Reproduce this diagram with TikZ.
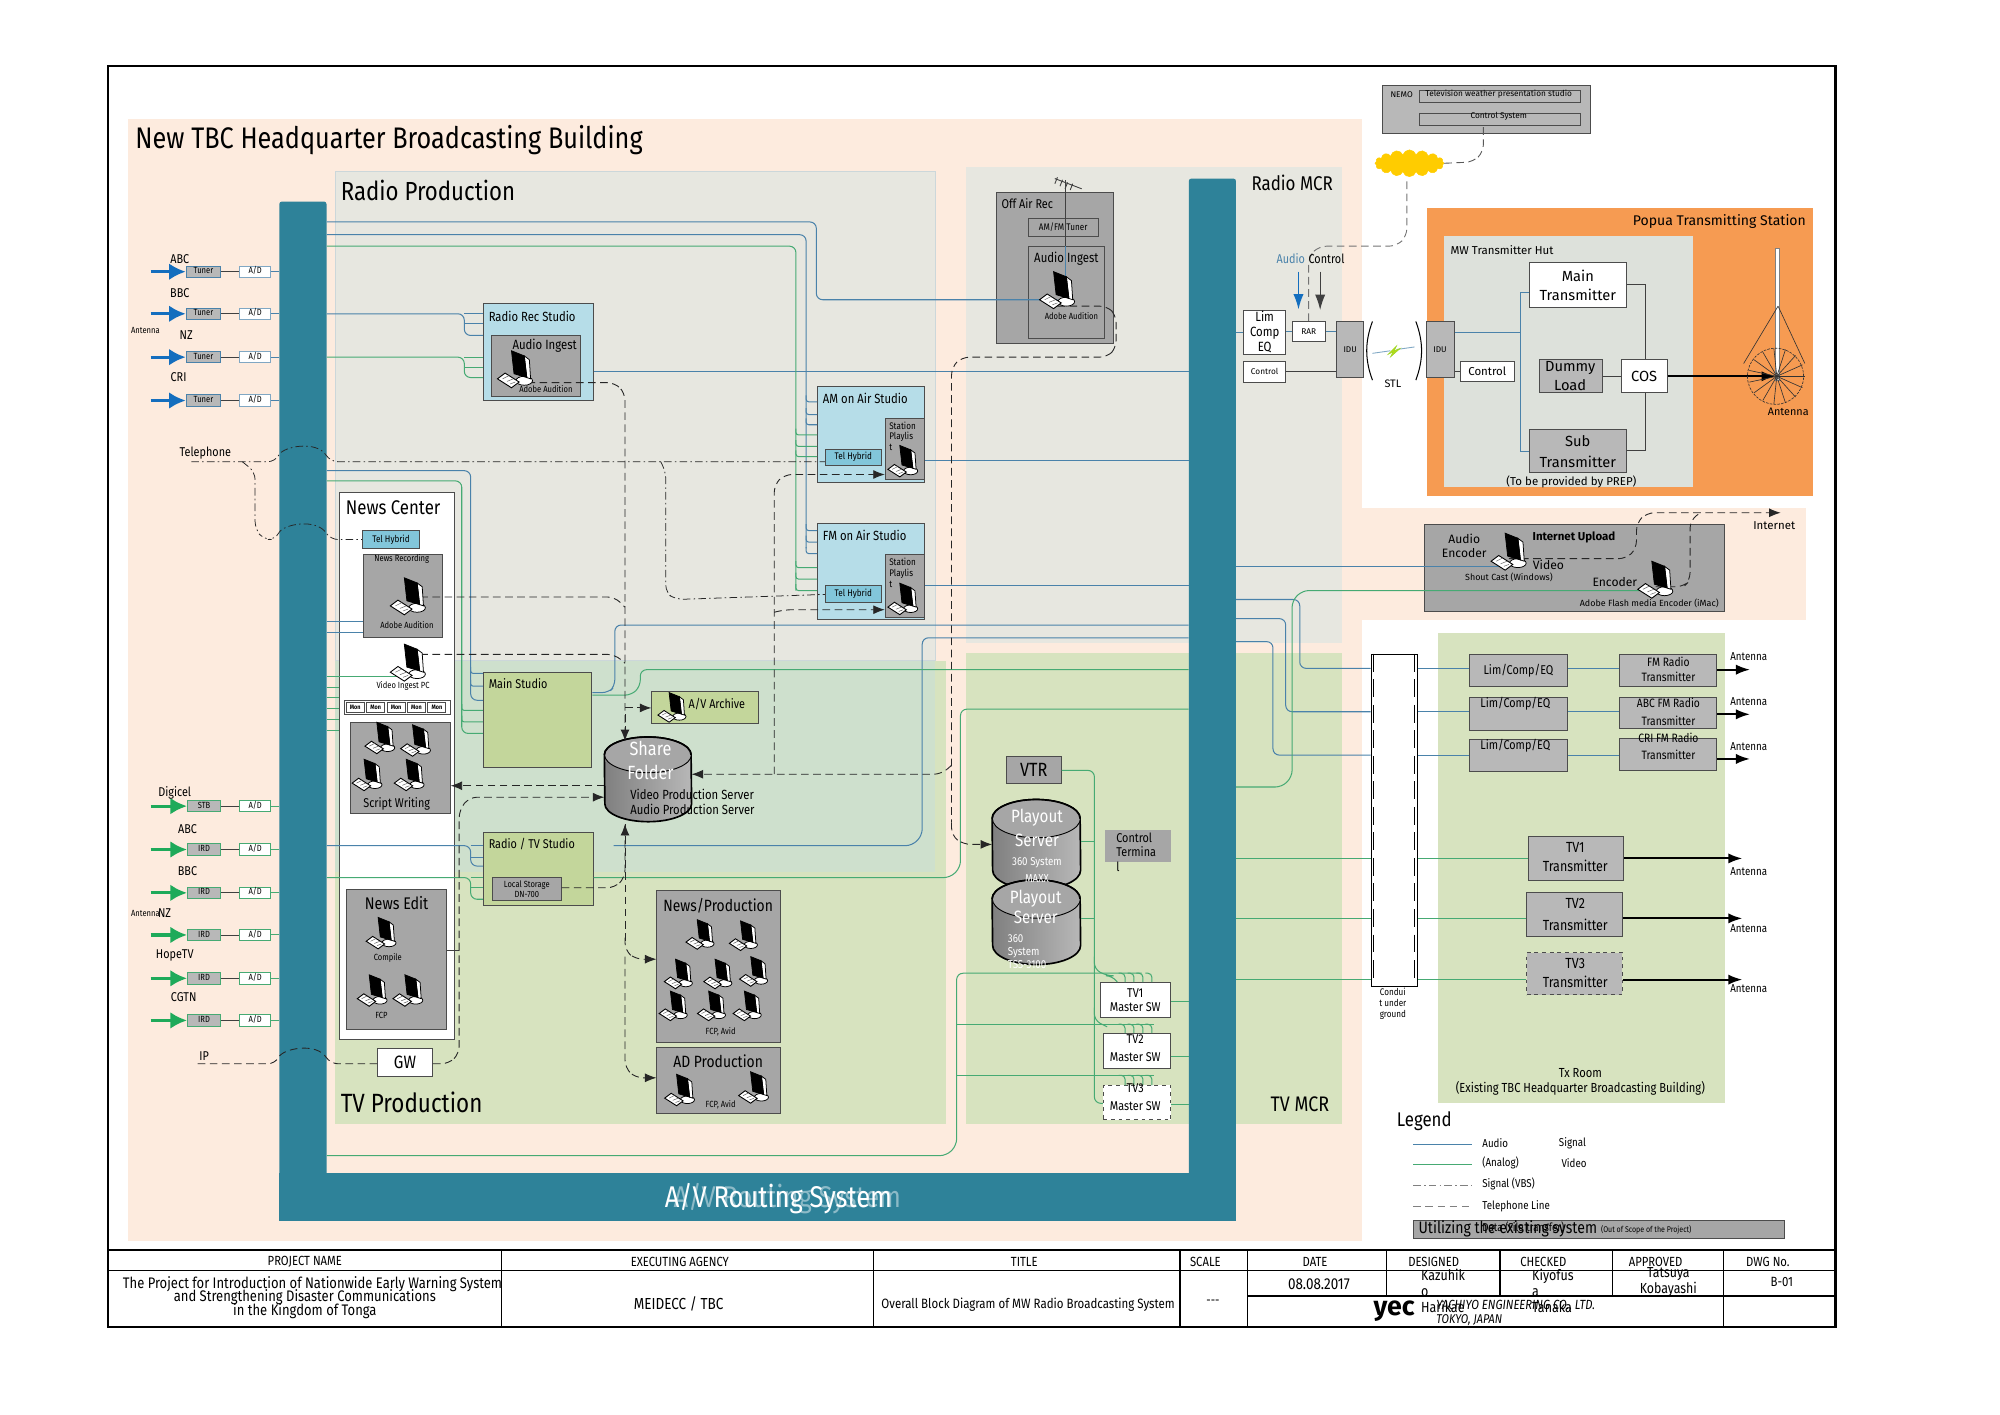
\documentclass[tikz,border=0pt]{standalone}
\usepackage{fontspec}
\setmainfont[FakeStretch=0.85]{Fira Sans}
\newfontfamily\widefont{Fira Sans}
\usetikzlibrary{arrows.meta,positioning,fit,calc,shapes.geometric,shapes.symbols}
\definecolor{TBCPeach}{RGB}{253,235,222}
\definecolor{TBCTeal}{RGB}{46,130,153}
\definecolor{TBCStone}{RGB}{231,231,224}
\definecolor{TBCMoss}{RGB}{215,227,191}
\definecolor{TBCMix}{RGB}{206,224,205}
\definecolor{TBCSky}{RGB}{182,221,232}
\definecolor{TBCHybrid}{RGB}{130,198,218}
\definecolor{TBCOlive}{RGB}{195,214,155}
\definecolor{TBCGrey}{RGB}{166,166,166}
\definecolor{TBCSilver}{RGB}{184,184,184}
\definecolor{TBCOrange}{RGB}{246,155,82}
\definecolor{TBCHut}{RGB}{221,225,219}
\definecolor{TBCBlue}{RGB}{74,130,170}
\definecolor{TBCGreen}{RGB}{70,170,115}
\definecolor{TBCArrowB}{RGB}{20,110,190}
\definecolor{TBCArrowG}{RGB}{30,170,90}
\definecolor{TBCCloud}{RGB}{255,204,0}
\tikzset{
  fs/.style={font=\linespread{1.12}\fontsize{#1}{#1}\selectfont},
  fw/.style={font=\widefont\linespread{1.12}\fontsize{#1}{#1}\selectfont},
  lbl/.style={inner sep=0pt,align=center},
  lft/.style={inner sep=0pt,anchor=west,align=left},
  area/.style={inner sep=0pt,draw=none},
  bx/.style={inner sep=0pt,align=center,draw=black!70,line width=.7pt},
  boxg/.style={bx,fill=TBCGrey},
  boxs/.style={bx,fill=TBCSilver},
  boxw/.style={bx,fill=white},
  boxb/.style={bx,fill=TBCSky},
  boxo/.style={bx,fill=TBCOlive},
  boxh/.style={bx,fill=TBCHybrid},
  blueln/.style={draw=TBCBlue,line width=.8pt,rounded corners=5pt},
  greenln/.style={draw=TBCGreen,line width=.8pt,rounded corners=5pt},
  blackln/.style={draw=black!75,line width=.7pt},
  dashln/.style={draw=black!85,line width=.7pt,dash pattern=on 6pt off 3.5pt,rounded corners=6pt},
  dotln/.style={draw=black!85,line width=.6pt,dash pattern=on 6pt off 2.5pt on 1.2pt off 2.5pt,rounded corners=6pt},
  tip/.style={-{Latex[length=9pt,width=7pt]}},
  fatarrow/.style={line width=1.6pt,-{Latex[length=11pt,width=8pt]}},
  drumln/.style={draw=black,line width=1.3pt},
  pc/.pic={
    \draw[fill=white,line width=.6pt] (7,8.5) ellipse (6.5pt and 3.5pt);
    \draw[fill=white,line width=.6pt] (7,-11)--(11,-8)--(12,7)--(9,6)--cycle;
    \draw[fill=black,draw=black,line width=.6pt] (-3,-15)--(7,-11)--(9,6)--(-1,3)--cycle;
    \draw[fill=white,line width=.7pt] (-14,7)--(-8,2.5)--(3,9.5)--(-3,14)--cycle;
    \draw[line width=.4pt,black!60] (-10,7)--(-5,4.5) (-6.5,9)--(-1.5,7) (-4,11)--(0,9.5);
  }
}
\newcommand{\drumon}[3]{
  \draw[drumln,left color=black!50,right color=black!28] ($(#1.north west)+(0,-#3)$) arc (180:0:#2 and #3) -- ($(#1.south east)+(0,#3)$) arc (0:-180:#2 and #3) -- cycle;
  \draw[drumln,line width=.7pt,fill=TBCGrey] ($(#1.north)+(0,-#3)$) ellipse (#2 and #3);
  \draw[drumln] ($(#1.north west)+(0,-#3)$) arc (180:0:#2 and #3);
}
\begin{document}
\begin{tikzpicture}[x=1pt,y=-1pt]
\useasboundingbox (0,0) rectangle (1568,1108.6);
\node[inner sep=0pt,draw=black,line width=1.6pt,fit={(85,52) (1439,1040)}] (frame) {};

% areas
\node[area,fill=TBCPeach,fit={(100,93) (1068,973)}] (building) {};
\node[area,fill=TBCPeach,fit={(1068,398) (1416,486)}] (uploadarea) {};
\node[area,fill=TBCMoss,fit={(263,518) (742,881)}] (tvprod) {};
\node[area,fill=TBCStone,draw=TBCSky!70!black!40,fit={(263,134) (733,518)}] (radioprod) {};
\node[area,fill=TBCMix,fit={(263,518) (733,684)}] (overlap) {};
\node[area,fill=TBCStone,fit={(757,131) (1052,504)}] (radiomcr) {};
\node[area,fill=TBCMoss,fit={(757,512) (1052,881)}] (tvmcr) {};
\node[area,fill=TBCOrange,fit={(1119,163) (1421,389)}] (popua) {};
\node[area,fill=TBCHut,fit={(1132,185) (1327,382)}] (hut) {};
\node[area,fill=TBCMoss,fit={(1127,496) (1352,865)}] (txroom) {};

% routing system
\node[area,fill=TBCTeal,rounded corners=2pt,fit={(219,158) (256,957)}] (barL) {};
\node[area,fill=TBCTeal,rounded corners=2pt,fit={(932,140) (969,957)}] (barR) {};
\node[area,fill=TBCTeal,fit={(219,920) (969,957)}] (barB) {};

% boxes
\node[boxb,fit={(379,238) (465,314)}] (recstudio) {};
\node[boxg,fit={(385,263) (455,311)}] (recingest) {};
\node[boxb,fit={(641,303) (725,378)}] (amair) {};
\node[boxg,fit={(694,328) (725,376)}] (amlist) {};
\node[boxh,fit={(647,352) (691,365)}] (amhybrid) {};
\node[boxb,fit={(641,410) (725,486)}] (fmair) {};
\node[boxg,fit={(694,435) (725,484)}] (fmlist) {};
\node[boxh,fit={(647,459) (691,472)}] (fmhybrid) {};
\node[boxg,fit={(781,151) (873,269)}] (offair) {};
\node[boxg,fit={(806,171) (861,185)}] (amfm) {};
\node[boxg,fit={(806,193) (866,265)}] (offingest) {};
\node[boxw,fit={(266,386) (356,815)}] (newscenter) {};
\node[boxh,fit={(284,416) (329,430)}] (newshybrid) {};
\node[boxg,fit={(285,435) (347,500)}] (newsrec) {};
\node[boxw,fit={(270,549) (353,560)}] (monrow) {};
\foreach \i in {0,...,4} {
  \node[boxw,fit={(271.5+16*\i,550.5) (285.5+16*\i,558.5)}] (mon\i) {};
  \node[lbl,font=\bfseries\fontsize{5}{5}\selectfont] (mont\i) at (mon\i) {Mon};
}
\node[boxg,fit={(275,566) (353,638)}] (script) {};
\node[boxg,fit={(272,697) (350,807)}] (newsedit) {};
\node[boxw,fit={(296,822) (339,844)}] (gw) {};
\node[boxo,fit={(379,527) (464,602)}] (mainstudio) {};
\node[boxo,fit={(379,653) (465,710)}] (tvstudio) {};
\node[boxg,fit={(386,688) (440,706)}] (localstore) {};
\node[boxo,fit={(511,542) (595,567)}] (archive) {};
\node[boxg,fit={(515,698) (612,817)}] (newsprod) {};
\node[boxg,fit={(515,821) (612,873)}] (adprod) {};
\node[boxg,fit={(789,593) (832,614)}] (vtr) {};
\node[boxg,draw=none,fit={(866,651) (918,676)}] (ctrlterm) {};
\node[boxw,fit={(863,770) (918,798)}] (master1) {};
\node[boxw,fit={(865,810) (918,838)}] (master2) {};
\node[boxw,dashed,fit={(865,851) (918,878)}] (master3) {};
\node[boxs,fit={(1084,67) (1247,105)}] (nemo) {};
\node[boxs,fit={(1113,71) (1239,80)}] (weather) {};
\node[boxs,fit={(1113,89) (1239,98)}] (ctrlsys) {};
\node[cloud,cloud puffs=16,cloud puff arc=150,aspect=2.6,fill=TBCCloud,draw=TBCCloud,inner sep=0pt,minimum width=54pt,minimum height=21pt] (cloud) at (1105,128) {};
\node[boxw,fit={(975,243) (1008,278)}] (limcomp) {};
\node[boxw,fit={(1013,252) (1039,268)}] (rar) {};
\node[boxw,fit={(975,283) (1008,300)}] (ctrlA) {};
\node[boxs,fit={(1048,252) (1069,296)}] (iduA) {};
\node[boxs,fit={(1118,252) (1140,296)}] (iduB) {};
\node[boxw,fit={(1145,283) (1187,299)}] (ctrlB) {};
\node[boxw,fit={(1199,206) (1275,241)}] (maintx) {};
\node[boxs,fit={(1207,282) (1256,308)}] (dummy) {};
\node[boxw,fit={(1271,282) (1307,308)}] (cos) {};
\node[boxs,fit={(1199,337) (1275,370)}] (subtx) {};
\node[boxg,fit={(1117,411) (1352,479)}] (upload) {};
\node[boxw,draw=black,fit={(1075,513) (1111,773)}] (conduit) {};
\node[boxs,fit={(1152,513) (1229,538)}] (eq1) {};
\node[boxs,fit={(1152,547) (1229,573)}] (eq2) {};
\node[boxs,fit={(1152,580) (1229,605)}] (eq3) {};
\node[boxs,fit={(1270,513) (1346,538)}] (fmtx) {};
\node[boxs,fit={(1270,547) (1346,571)}] (abctx) {};
\node[boxs,fit={(1270,579) (1346,604)}] (critx) {};
\node[boxs,fit={(1198,656) (1273,690)}] (tv1tx) {};
\node[boxs,fit={(1197,700) (1272,734)}] (tv2tx) {};
\node[boxs,dashed,fit={(1197,747) (1272,780)}] (tv3tx) {};
\node[boxg,fit={(1108,957) (1399,971)}] (legendbar) {};
\node[area,fit={(474,578) (542,644)}] (share) {};
\node[area,fit={(778,627) (847,697)}] (server1) {};
\node[area,fit={(778,690) (847,756)}] (server2) {};
\drumon{share}{34pt}{14pt}
\drumon{server1}{34.5pt}{15pt}
\drumon{server2}{34.5pt}{15pt}

% pc positions
\coordinate (pcRec) at (404,290);
\coordinate (pcOff) at (829,228);
\coordinate (pcNews) at (320,468);
\coordinate (pcVideo) at (320,520);
\coordinate (pcAudioEnc) at (1183,433);
\coordinate (pcVideoEnc) at (1298,455);

% inputs
\foreach \y/\n in {213/1,246/2,280/3,314/4} {
  \node[boxs,draw=TBCBlue,fit={(146,\y-4.5) (173,\y+4.5)}] (tuner\n) {};
  \node[boxw,draw=TBCBlue!70,fit={(188,\y-4.5) (212,\y+4.5)}] (ad\n) {};
  \node[lbl,fs=7,yshift=.8pt] (tunert\n) at (tuner\n) {Tuner};
  \node[lbl,fs=7,yshift=.8pt] (adt\n) at (ad\n) {A/D};
  \coordinate (src\n) at (118,\y);
  \draw[line width=2.5pt,draw=TBCArrowB,-{Latex[length=13pt,width=13pt]}] (src\n) -- (tuner\n.west);
  \draw[blackln] (tuner\n) -- (ad\n);
  \draw[blueln] (ad\n) -- (barL.west |- ad\n);
}
\foreach \y/\n/\lab in {632/1/STB,666/2/IRD,700/3/IRD,733/4/IRD,767/5/IRD,800/6/IRD} {
  \node[boxs,draw=TBCGreen,fit={(147,\y-4.5) (173,\y+4.5)}] (ird\n) {};
  \node[boxw,draw=TBCGreen,fit={(188,\y-4.5) (212,\y+4.5)}] (adv\n) {};
  \node[lbl,fs=7,yshift=.8pt] (irdt\n) at (ird\n) {\lab};
  \node[lbl,fs=7,yshift=.8pt] (advt\n) at (adv\n) {A/D};
  \coordinate (srv\n) at (118,\y);
  \draw[line width=2.5pt,draw=TBCArrowG,-{Latex[length=13pt,width=13pt]}] (srv\n) -- (ird\n.west);
  \draw[blackln] (ird\n) -- (adv\n);
  \draw[greenln] (adv\n) -- (barL.west |- adv\n);
}

% blue
\draw[blueln] (barL.east |- 0,174) -- (640,174) -- (640,235) -- (pcOff |- 0,235);
\draw[blueln] (barL.east |- 0,184) -- (632,184) -- (632,430);
\draw[blueln] (barL.east |- 0,246) -- (364,246) -- (364,263) -- (recstudio.west |- 0,263);
\draw[blueln] (364,254) -- (recstudio.west |- 0,254);
\draw[blueln] (364,246) -- (recstudio.west |- 0,246);
\draw[blueln] (recstudio.east |- 0,291) -- (barR.west |- 0,291);
\draw[blueln] (amair.east |- 0,361) -- (barR.west |- 0,361);
\draw[blueln] (fmair.east |- 0,459) -- (barR.west |- 0,459);
\foreach \y in {315,325,333} \draw[blueln,rounded corners=2pt] (632,\y-5) -- (632,\y) -- (amair.west |- 0,\y);
\foreach \y in {416,425,434} \draw[blueln,rounded corners=2pt] (632,\y-5) -- (632,\y) -- (fmair.west |- 0,\y);
\draw[blueln] (barL.east |- 0,369) -- (369,369) -- (369,549) -- (mainstudio.west |- 0,549);
\foreach \y in {528,538} \draw[blueln,rounded corners=2pt] (369,\y-5) -- (369,\y) -- (mainstudio.west |- 0,\y);
\draw[blueln] (mainstudio.east |- 0,543) -- (477,543) -- (482,538) -- (482,490) -- (barR.west |- 0,490);
\foreach \y in {487,496} \draw[blueln] (barL.east |- 0,\y) -- (newsrec.west |- 0,\y);
\draw[blueln] (barL.east |- 0,663) -- (369,663) -- (369,679) -- (tvstudio.west |- 0,679);
\foreach \y in {663,672} \draw[blueln,rounded corners=2pt] (369,\y) -- (tvstudio.west |- 0,\y);
\draw[blueln] (481,663) -- (715,663) -- (723,655) -- (723,500) -- (barR.west |- 0,500);
\draw[blueln] (barR.east |- 0,444) -- (pcAudioEnc |- 0,444);
\draw[blueln] (barR.east |- 0,470) -- (1019,470) -- (1019,524) -- (conduit.west |- 0,524);
\draw[blueln] (barR.east |- 0,485) -- (1008,485) -- (1008,558) -- (conduit.west |- 0,558);
\draw[blueln] (barR.east |- 0,503) -- (998,503) -- (998,592) -- (conduit.west |- 0,592);
\draw[blueln] (conduit.east |- 0,524) -- (eq1.west |- 0,524);
\draw[blueln] (conduit.east |- 0,558) -- (eq2.west |- 0,558);
\draw[blueln] (conduit.east |- 0,592) -- (eq3.west |- 0,592);
\draw[blueln] (eq1.east |- 0,524) -- (fmtx.west |- 0,524);
\draw[blueln] (eq2.east |- 0,558) -- (abctx.west |- 0,558);
\draw[blueln] (eq3.east |- 0,592) -- (critx.west |- 0,592);
\draw[blueln] (barR.east |- limcomp) -- (limcomp);
\draw[blueln] (limcomp.east |- rar) -- (rar);
\draw[blueln] (rar) -- (iduA.west |- rar);
\draw[blueln] (iduB.east |- 0,261) -- (1192,261);
\draw[blueln,rounded corners=0pt] (maintx.west |- 0,229) -- (1192,229) -- (1192,354) -- (subtx.west |- 0,354);
\draw[blueln] (amfm.south -| 835,185) -- (835,230);

% green
\draw[greenln] (barL.east |- 0,193) -- (624,193) -- (624,463);
\draw[greenln] (barL.east |- 0,280) -- (364,280) -- (364,296) -- (recstudio.west |- 0,296);
\draw[greenln] (364,288) -- (recstudio.west |- 0,288);
\draw[greenln] (364,280) -- (recstudio.west |- 0,280);
\foreach \y in {341,350,358} \draw[greenln,rounded corners=2pt] (624,\y-5) -- (624,\y) -- (amair.west |- 0,\y);
\foreach \y in {445,454,463} \draw[greenln,rounded corners=2pt] (624,\y-5) -- (624,\y) -- (fmair.west |- 0,\y);
\draw[greenln] (barL.east |- 0,377) -- (362,377) -- (362,575) -- (mainstudio.west |- 0,575);
\foreach \y in {557,566} \draw[greenln,rounded corners=2pt] (362,\y-5) -- (362,\y) -- (mainstudio.west |- 0,\y);
\draw[greenln] (mainstudio.east |- 0,545) -- (495,545) -- (502,538) -- (502,525) -- (barR.west |- 0,525);
\draw[greenln] (barL.east |- 0,530) -- (pcVideo |- 0,530);
\foreach \y in {539,547,555.6,564,572.5} \draw[greenln] (barL.east |- 0,\y) -- (newscenter.west |- 0,\y);
\draw[greenln] (barL.east |- 0,688) -- (369,688) -- (369,705) -- (tvstudio.west |- 0,705);
\draw[greenln] (369,696) -- (tvstudio.west |- 0,696);
\draw[greenln] (369,688) -- (tvstudio.west |- 0,688);
\draw[greenln] (tvstudio.east |- 0,688) -- (745,688) -- (753,680) -- (753,556) -- (barR.west |- 0,556);
\draw[greenln] (barL.east |- 0,906) -- (742,906) -- (750,898) -- (750,763) -- (895,763);
\draw[greenln] (750,803) -- (905,803);
\draw[greenln] (750,843) -- (905,843);
\draw[greenln] (vtr.east |- 0,604) -- (858,604) -- (858,865) -- (master3.west |- 0,865);
\draw[greenln] (server1.east |- 0,660) -- (858,660);
\draw[greenln] (server2.east |- 0,720) -- (858,720);
\draw[greenln] (858,750) -- (858,760) -- (868,765) -- (872,765) -- (876,770);
\draw[greenln] (858,790) -- (858,800) -- (868,805);
\foreach \x in {882,889,896,903} {
  \draw[greenln,rounded corners=3pt] (\x-5,763) -- (\x,763) -- (\x,770);
  \draw[greenln,rounded corners=3pt] (\x-5,803) -- (\x,803) -- (\x,810);
  \draw[greenln,rounded corners=3pt] (\x-5,843) -- (\x,843) -- (\x,851);
}
\draw[greenln] (master1.east |- 0,785) -- (barR.west |- 0,785);
\draw[greenln] (master2.east |- 0,828) -- (barR.west |- 0,828);
\draw[greenln] (master3.east |- 0,866) -- (barR.west |- 0,866);
\draw[greenln] (barR.east |- 0,617) -- (1005,617) -- (1013,609) -- (1013,471) -- (1021,463) -- (pcVideoEnc |- 0,463);
\foreach \y/\t in {673/tv1tx,720/tv2tx,768/tv3tx} {
  \draw[greenln] (barR.east |- 0,\y) -- (conduit.west |- 0,\y);
  \draw[greenln] (conduit.east |- 0,\y) -- (\t.west |- 0,\y);
}

% black
\draw[blackln] (ctrlA) -- (iduA.west |- ctrlA);
\draw[blackln] (iduB.east |- ctrlB) -- (ctrlB);
\draw[blackln] (maintx.east |- 0,223) -- (1290,223) -- (cos.north -| 1290,0);
\draw[blackln] (subtx.east |- 0,353) -- (1290,353) -- (cos.south -| 1290,0);
\draw[blackln] (dummy) -- (cos);
\draw[blackln] (offingest.north -| 835,0) -- (835,141);
\draw[blackln] (amfm.north -| 835,0) -- (835,158);
\draw[blackln] (827,140) -- (848,148) (829,139) -- (827,144) (833,141) -- (831,146) (837,143) -- (835,148) (841,144) -- (839,149);
\draw[blackln] (newsedit.east |- 0,745) -- (360,745);

% dash dot
\draw[dotln] (150,362) -- (216,362) .. controls (222,350) and (248,345) .. (259,362) -- (amhybrid.west |- 0,362);
\draw[dotln] (190,362) -- (200,370) -- (200,415) -- (207,423) -- (216,423) .. controls (222,411) and (248,406) .. (259,423) -- (newshybrid.west |- 0,423);
\draw[dotln] (518,362) -- (522,370) -- (522,465) -- (530,470) -- (fmhybrid.west |- 0,466);
% dashed
\draw[dashln] (pcRec |- 0,300) -- (482,300) -- (490,308) -- (490,578);
\draw[dashln,tip] (490,560) -- (490,581);
\draw[dashln] (pcNews |- 0,468) -- (482,468) -- (490,476);
\draw[dashln] (pcVideo |- 0,513) -- (482,513) -- (490,520);
\draw[dashln,tip] (490,555) -- (archive.west |- 0,555);
\draw[dashln,tip] (share.west |- 0,616) -- (script.east |- 0,616);
\draw[dashln,tip] (360,745) -- (360,635) -- (368,625) -- (share.west |- 0,625);
\draw[dashln] (155,834) -- (216,834) .. controls (222,822) and (248,817) .. (259,834) -- (gw.west |- 0,834);
\draw[dashln] (gw.east |- 0,834) -- (352,834) -- (360,826) -- (360,745);
\draw[dashln,tip] (localstore.east |- 0,696) -- (482,696) -- (490,688) -- (490,646);
\draw[dashln] (490,646) -- (490,740);
\draw[dashln,tip] (490,735) -- (490,745) -- (498,752) -- (newsprod.west |- 0,752);
\draw[dashln,tip] (490,750) -- (490,837) -- (498,845) -- (adprod.west |- 0,845);
\draw[dashln] (pcOff |- 0,240) -- (868,240) -- (875,247) -- (875,273) -- (868,280) -- (754,280) -- (746,288) -- (746,645);
\draw[dashln,tip] (746,600) -- (738,607) -- (share.east |- 0,607);
\draw[dashln,tip] (746,645) -- (746,655) -- (755,662) -- (server1.west |- 0,662);
\draw[dashln,tip] (607,607) -- (607,380) -- (615,372) -- (amlist.west |- 0,372);
\draw[dashln,tip] (607,480) -- (615,478) -- (fmlist.west |- 0,478);
\draw[dashln,draw=black!55] (rar.north -| 1026,0) -- (1026,201) -- (1034,193) -- (1095,193) -- (1103,185) -- (cloud.south -| 1103,0);
\draw[dashln,draw=black!65] (cloud.east) -- (1155,127) -- (1163,119) -- (ctrlsys.south -| 1163,0);
\draw[dashln,tip] (pcAudioEnc |- 0,438) -- (1275,438) -- (1283,430) -- (1283,410) -- (1291,402) -- (1396,402);
\draw[dashln] (pcVideoEnc |- 0,460) -- (1320,460) -- (1325,455) -- (1325,408) -- (1333,402);

% arrows out
\draw[line width=1.3pt,draw=TBCArrowB,-{Latex[length=12pt,width=8pt]}] (1018,213) -- (limcomp.north -| 1018,0);
\draw[blackln,-{Latex[length=12pt,width=8pt]},line width=.9pt] (1035,213) -- (1035,243);
\draw[fatarrow] (cos.east) -- (1392,295);
\foreach \t/\y in {fmtx/525,abctx/560,critx/595} \draw[fatarrow] (\t.east |- 0,\y) -- (1372,\y);
\foreach \t/\y in {tv1tx/673,tv2tx/720,tv3tx/768} \draw[fatarrow] (\t.east |- 0,\y) -- (1366,\y);

% conduit edges
\draw[black,line width=.7pt,dash pattern=on 14pt off 6pt] ($(conduit.north west)+(2.5,0)$) -- ($(conduit.south west)+(2.5,0)$);
\draw[black,line width=.7pt,dash pattern=on 14pt off 6pt] ($(conduit.north east)+(-2.5,0)$) -- ($(conduit.south east)+(-2.5,0)$);

% mast and radials
\node[inner sep=0pt,fill=white,draw=black!50,line width=.4pt,fit={(1392,195) (1395,298)}] (mast) {};
\draw[black!80,line width=.5pt] (1394,240) -- (1367,285) (1394,240) -- (1415,285);
\draw[black!80,line width=.5pt,dash pattern=on 2pt off 1pt] (1392,295) ellipse (22pt and 22pt);
\foreach \a in {0,24,...,336} \draw[black!80,line width=.5pt] (1393,295) -- ++(\a:22pt);
% stl
\draw[line width=.8pt] (1076,252) .. controls (1070,268) and (1070,282) .. (1076,298);
\draw[line width=.8pt] (1110,252) .. controls (1116,268) and (1116,282) .. (1110,298);
\draw[TBCBlue!70,line width=.7pt] (1076,277) -- (1090,275) (1095,274) -- (1109,272);
\draw[fill=yellow!70!green,draw=yellow!60!green,line width=.3pt] (1088,278) -- (1095,271) -- (1093,275) -- (1098,273) -- (1090,280) -- (1092,276) -- cycle;

% pcs
\pic at (pcRec) {pc};
\pic at (pcOff) {pc};
\pic at (pcNews) {pc};
\pic at (pcVideo) {pc};
\pic at (pcAudioEnc) {pc};
\pic at (pcVideoEnc) {pc};
\pic[scale=.85] at (708,362) {pc};
\pic[scale=.85] at (708,470) {pc};
\pic[scale=.8] at (527,555) {pc};
\foreach \x/\y in {298/579,326/581,288/608,321/608} \pic[scale=.85] at (\x,\y) {pc};
\foreach \x/\y in {299/732,292/777,320/777} \pic[scale=.85] at (\x,\y) {pc};
\foreach \x/\y in {549/733,583/734,532/764,563/764,591/762,528/789,558/789,586/789} \pic[scale=.8] at (\x,\y) {pc};
\foreach \x/\y in {533/855,591/853} \pic[scale=.85] at (\x,\y) {pc};

% headings
\node[lft,fs=23.3] (tBuilding) at (106,110) {New TBC Headquarter Broadcasting Building};
\node[lft,fs=20.5] (tRadioProd) at (267,149) {Radio Production};
\node[lft,fs=20.7] (tTvProd) at (267,864) {TV Production};
\node[lft,fs=15.6] (tRadioMcr) at (981,143) {Radio MCR};
\node[lft,fs=16.5] (tTvMcr) at (996,866) {TV MCR};
\node[lft,fs=23.5,text=white] (tRouting) at (521,940) {A/V Routing System};
\node[lft,fs=23.5,text=white,opacity=.45] (tRoutingB) at (528,940) {A/V Routing System};
\node[lft,fs=15.5] (tNewsCenter) at (271,398) {News Center};

% left labels
\foreach \x/\y/\t/\n in {141/203/ABC/a,141/230/BBC/b,146/263/NZ/c,140/296/CRI/d,137/622/Digicel/e,147/650/ABC/f,147/683/BBC/g,129/716/NZ/h,137/749/HopeTV/i,144/782/CGTN/j,160/828/IP/k,161/355/Telephone/l}
  \node[lbl,fs=10] (lab\n) at (\x,\y) {\t};
\node[lbl,fs=7] (antA) at (114,259) {Antenna};
\node[lbl,fs=7] (antB) at (114,716) {Antenna};

% studios
\node[lft,fs=10.4] (tRec) at (383,248) {Radio Rec Studio};
\node[lbl,fs=10.5] (tRecIngest) at (427,271) {Audio Ingest};
\node[lbl,fs=7] (tRecAdobe) at (428,305) {Adobe Audition};
\node[lft,fs=10.4] (tAm) at (645,312) {AM on Air Studio};
\node[lft,fs=7.5] (tAmList) at (697,342) {Station\\Playlis\\t};
\node[lbl,fs=7.5] (tAmHybrid) at (amhybrid) {Tel Hybrid};
\node[lft,fs=10.4] (tFm) at (645,420) {FM on Air Studio};
\node[lft,fs=7.5] (tFmList) at (697,449) {Station\\Playlis\\t};
\node[lbl,fs=7.5] (tFmHybrid) at (fmhybrid) {Tel Hybrid};
\node[lft,fs=10] (tOff) at (785,160) {Off Air Rec};
\node[lbl,fs=7.5] (tAmFm) at (amfm) {AM/FM Tuner};
\node[lbl,fs=10.5] (tOffIngest) at (836,203) {Audio Ingest};
\node[lbl,fs=7] (tOffAdobe) at (840,248) {Adobe Audition};
\node[lbl,fs=7.5] (tNewsHybrid) at (newshybrid) {Tel Hybrid};
\node[lbl,fs=7] (tNewsRec) at (315,438) {News Recording};
\node[lbl,fs=7] (tNewsAdobe) at (319,490) {Adobe Audition};
\node[lbl,fs=7] (tVideoPc) at (316,538) {Video Ingest PC};
\node[lbl,fs=10] (tScript) at (311,630) {Script Writing};
\node[lbl,fs=13.2] (tNewsEdit) at (311,708) {News Edit};
\node[lbl,fs=7] (tCompile) at (304,751) {Compile};
\node[lbl,fs=7] (tFcp) at (299,796) {FCP};
\node[lbl,fs=14] (tGw) at (gw) {GW};
\node[lft,fs=10] (tMain) at (383,536) {Main Studio};
\node[lft,fs=10] (tTvStudio) at (383,662) {Radio / TV Studio};
\node[lbl,fs=7] (tLocal) at (localstore) {Local Storage\\DN-700};
\node[lbl,fs=10] (tArchive) at (562,552) {A/V Archive};
\node[lbl,fs=15,text=white] (tShare) at (510,596) {Share\\[2pt]Folder};
\node[lft,fs=10.4] (tShareSub) at (494,629) {Video Production Server\\Audio Production Server};
\node[lbl,fs=12.8] (tNewsProd) at (563,710) {News/Production};
\node[lbl,fs=7] (tFcpA) at (565,809) {FCP, Avid};
\node[lbl,fs=12.8] (tAd) at (563,832) {AD Production};
\node[lbl,fs=7] (tFcpB) at (565,866) {FCP, Avid};
\node[lbl,fs=15] (tVtr) at (vtr) {VTR};
\node[lbl,fs=14,text=white] (tPlayA) at (813,649) {Playout\\[3pt]Server};
\node[lbl,fs=9,text=white] (tPlayAsub) at (813,682) {360 System\\[3pt]MAXX};
\node[lbl,fs=14,text=white] (tPlayB) at (812,711) {Playout\\Server};
\node[lft,fs=9,text=white] (tPlayBsub) at (790,746) {360\\System\\TSS-3100};
\node[lft,fs=10] (tCtrl) at (875,668) {Control\\Termina\\l};
\node[lbl,fs=10] (tM1) at (890,784) {TV1\\Master SW};
\node[lbl,fs=10] (tM2) at (890,822) {TV2\\[3pt]Master SW};
\node[lbl,fs=10] (tM3) at (890,860) {TV3\\[3pt]Master SW};

% right labels
\node[lbl,fs=10,text=TBCBlue] (tAudioIn) at (1012,203) {Audio};
\node[lbl,fs=10] (tControlIn) at (1040,203) {Control};
\node[lbl,fs=10.5] (tLim) at (limcomp) {Lim\\Comp\\EQ};
\node[lbl,fw=6.5] (tRar) at (rar) {RAR};
\node[lbl,fw=6.5] (tCtrlA) at (ctrlA) {Control};
\node[lbl,fw=6.5] (tIduA) at (iduA) {IDU};
\node[lbl,fw=6.5] (tIduB) at (iduB) {IDU};
\node[lbl,fw=9] (tCtrlB) at (ctrlB) {Control};
\node[lbl,fw=8.5] (tStl) at (1092,301) {STL};
\node[lft,fw=6.5] (tNemo) at (1090,74) {NEMO};
\node[lbl,fw=6.5] (tWeather) at (1175,74) {Television weather presentation studio};
\node[lbl,fw=6.5] (tCtrlSys) at (1175,91) {Control System};
\node[anchor=east,inner sep=0pt,fw=11] (tPopua) at (1416,174) {Popua Transmitting Station};
\node[lft,fw=9] (tHut) at (1137,196) {MW Transmitter Hut};
\node[lbl,fw=11.5] (tMainTx) at (maintx) {Main\\[2pt]Transmitter};
\node[lbl,fw=11.5] (tDummy) at (1231,295) {Dummy\\[2pt]Load};
\node[lbl,fw=11.5] (tCos) at (cos) {COS};
\node[lbl,fw=11.5] (tSubTx) at (1237,354) {Sub\\[3pt]Transmitter};
\node[lbl,fw=9] (tPrep) at (1232,378) {(To be provided by PREP)};
\node[lbl,fw=8.5] (tAntPop) at (1402,323) {Antenna};
\node[lbl,fw=9] (tInternet) at (1391,412) {Internet};
\node[lbl,fw=9.5] (tAudioEnc) at (1148,428) {Audio\\Encoder};
\node[lbl,font=\widefont\bfseries\fontsize{9}{9}\selectfont] (tUpload) at (1234,421) {Internet Upload};
\node[lbl,fw=9.5] (tVideo) at (1214,443) {Video};
\node[lbl,fw=9.5] (tEncoder) at (1266,456) {Encoder};
\node[lbl,fw=7] (tShout) at (1183,453) {Shout Cast (Windows)};
\node[lbl,fw=7] (tFlash) at (1293,473) {Adobe Flash media Encoder (iMac)};
\node[lbl,fs=7.5] (tConduit) at (1092,787) {Condui\\t under\\ground};
\node[lbl,fs=10] (tEq1) at (eq1) {Lim/Comp/EQ};
\node[lbl,fs=10] (tEq2) at (1188,552) {Lim/Comp/EQ};
\node[lbl,fs=10] (tEq3) at (1188,585) {Lim/Comp/EQ};
\node[lbl,fs=9.5] (tFmTx) at (1308,525) {FM Radio\\[1pt]Transmitter};
\node[lbl,fs=9.5] (tAbcTx) at (1308,558) {ABC FM Radio\\[3pt]Transmitter};
\node[lbl,fs=9.5] (tCriTx) at (1308,585) {CRI FM Radio\\[3pt]Transmitter};
\node[lbl,fs=11.5] (tTv1) at (1235,672) {TV1\\[2pt]Transmitter};
\node[lbl,fs=11.5] (tTv2) at (1235,717) {TV2\\[5pt]Transmitter};
\node[lbl,fs=11.5] (tTv3) at (1235,763) {TV3\\[2pt]Transmitter};
\foreach \x/\y/\n in {1371/515/a,1371/550/b,1371/585/c,1371/683/d,1371/728/e,1371/775/f}
  \node[lbl,fs=9] (ant\n) at (\x,\y) {Antenna};
\node[lbl,fs=10.3] (tTxRoom) at (1239,848) {Tx Room\\(Existing TBC Headquarter Broadcasting Building)};

% legend
\node[lft,fs=15.5] (tLegend) at (1095,879) {Legend};
\coordinate (lgA) at (1108,897);
\coordinate (lgB) at (1108,913);
\coordinate (lgC) at (1108,929);
\coordinate (lgD) at (1108,946);
\node[lft,fs=9] (lgAudio) at (1162,896) {Audio};
\node[lft,fs=9] (lgSignal) at (1222,896) {Signal};
\node[lft,fs=9] (lgAnalog) at (1162,912) {(Analog)};
\node[lft,fs=9] (lgVideo) at (1224,912) {Video};
\node[lft,fs=9] (lgVbs) at (1162,928) {Signal (VBS)};
\node[lft,fs=9] (lgTel) at (1162,946) {Telephone Line};
\node[lft,fs=9] (lgData) at (1162,962) {Data (File transfer)};
\node[lft,fs=13] (lgUtil) at (1112,963) {Utilizing the existing system};
\node[lft,fs=6.5] (lgScope) at (1255,964) {(Out of Scope of the Project)};
\draw[blueln] (lgA) -- (1154,897);
\draw[greenln] (lgB) -- (1154,913);
\draw[dotln,draw=black!50] (lgC) -- (1154,929);
\draw[dashln,draw=black!50] (lgD) -- (1154,946);

% title block
\coordinate (tbA) at (85,980);
\coordinate (tbB) at (1439,980);
\draw[line width=1.3pt] (tbA) -- (tbB);
\draw[line width=1pt] (85,996) -- (1439,996);
\foreach \x in {393,685,925,978,1351} \draw[line width=1pt] (\x,980) -- (\x,1040);
\foreach \x in {1087,1176,1264} \draw[line width=1pt] (\x,980) -- (\x,1016);
\draw[line width=1pt] (978,1016) -- (1439,1016);
\foreach \x/\t/\n in {239/PROJECT NAME/a,533/EXECUTING AGENCY/b,803/TITLE/c,945/SCALE/d,1031/DATE/e,1124/DESIGNED/f,1210/CHECKED/g,1298/APPROVED/h,1386/DWG No./i}
  \node[lbl,fs=10.4] (hd\n) at (\x,989.5) {\t};
\node[lbl,fs=12] (cellProjA) at (245,1007) {The Project for Introduction of Nationwide Early Warning System};
\node[lbl,fs=12] (cellProjB) at (239,1017) {and Strengthening Disaster Communications};
\node[lbl,fs=12] (cellProjC) at (239,1028) {in the Kingdom of Tonga};
\node[lbl,fs=12.5] (cellAgency) at (532,1022) {MEIDECC / TBC};
\node[lbl,fs=10.6] (cellTitle) at (806,1023) {Overall Block Diagram of MW Radio Broadcasting System};
\node[lbl,fs=10] (cellScale) at (951,1021) {-{}-{}-};
\node[lbl,fs=12.4] (cellDate) at (1034,1007) {08.08.2017};
\node[lft,fs=11.5] (cellDes) at (1114,1012) {Kazuhik\\o\\Harikae};
\node[lft,fs=11.5] (cellChk) at (1201,1012) {Kiyofus\\a\\Tanaka};
\node[lbl,font=\linespread{.95}\fontsize{11.4}{11.4}\selectfont] (cellApp) at (1308,1005) {Tatsuya\\Kobayashi};
\node[lbl,fs=10.5] (cellDwg) at (1397,1005) {B-01};
\node[lbl,font=\widefont\bfseries\fontsize{21}{21}\selectfont] (logoYec) at (1093,1028) {yec};
\node[lft,font=\itshape\fontsize{10.4}{10.4}\selectfont] (cellYachiyo) at (1126,1024) {YACHIYO ENGINEERING CO., LTD.};
\node[lft,font=\itshape\fontsize{10}{10}\selectfont] (cellTokyo) at (1126,1035) {TOKYO, JAPAN};
\end{tikzpicture}
\end{document}
